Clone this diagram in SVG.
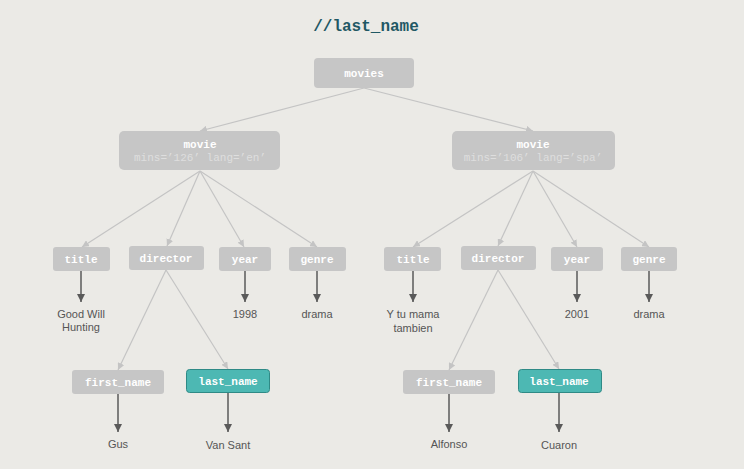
<svg xmlns="http://www.w3.org/2000/svg" width="744" height="469" viewBox="0 0 744 469">
<defs>
<marker id="ag" viewBox="0 0 10 10" refX="10" refY="5" markerWidth="7" markerHeight="7" markerUnits="userSpaceOnUse" orient="auto"><path d="M0,0 L10,5 L0,10 z" fill="#c4c4c4"/></marker>
<marker id="ad" viewBox="0 0 10 10" refX="10" refY="5" markerWidth="8" markerHeight="8" markerUnits="userSpaceOnUse" orient="auto"><path d="M0,0 L10,5 L0,10 z" fill="#5a5a5a"/></marker>
<style>
.n rect{fill:#c6c6c6;}
.n text{font-family:"Liberation Mono",monospace;font-size:11px;font-weight:bold;fill:#ffffff;text-anchor:middle;}
.n text.attr{font-weight:normal;fill:#dedede;}
.hl rect{fill:#4db8b3;stroke:#2f8a86;stroke-width:1;}
.g{stroke:#c4c4c4;stroke-width:1.2;fill:none;marker-end:url(#ag);}
.d{stroke:#5a5a5a;stroke-width:1.5;fill:none;marker-end:url(#ad);}
.v{font-family:"Liberation Sans",Arial,sans-serif;font-size:11px;fill:#555555;text-anchor:middle;}
</style>
</defs>
<rect width="744" height="469" fill="#ebeae6"/>
<text x="366" y="31" font-family="Liberation Mono, monospace" font-size="16" font-weight="bold" fill="#1f5864" text-anchor="middle">//last_name</text>

<g id="connectors">
<line class="g" x1="364" y1="88" x2="200" y2="131"/>
<line class="g" x1="364" y1="88" x2="533" y2="131"/>
<line class="g" x1="200" y1="171" x2="82" y2="247"/>
<line class="g" x1="200" y1="171" x2="167" y2="246"/>
<line class="g" x1="200" y1="171" x2="244" y2="247"/>
<line class="g" x1="200" y1="171" x2="317" y2="247"/>
<line class="g" x1="533" y1="171" x2="413" y2="247"/>
<line class="g" x1="533" y1="171" x2="498" y2="246"/>
<line class="g" x1="533" y1="171" x2="577" y2="247"/>
<line class="g" x1="533" y1="171" x2="649" y2="247"/>
<line class="g" x1="166" y1="270" x2="118" y2="370"/>
<line class="g" x1="166" y1="270" x2="228" y2="369"/>
<line class="g" x1="498" y1="270" x2="449" y2="370"/>
<line class="g" x1="498" y1="270" x2="559" y2="369"/>
<line class="d" x1="81" y1="271" x2="81" y2="302"/>
<line class="d" x1="245" y1="271" x2="245" y2="302"/>
<line class="d" x1="317" y1="271" x2="317" y2="302"/>
<line class="d" x1="413" y1="271" x2="413" y2="302"/>
<line class="d" x1="577" y1="271" x2="577" y2="302"/>
<line class="d" x1="649" y1="271" x2="649" y2="302"/>
<line class="d" x1="118" y1="394" x2="118" y2="432"/>
<line class="d" x1="228" y1="393" x2="228" y2="432"/>
<line class="d" x1="449" y1="394" x2="449" y2="432"/>
<line class="d" x1="559" y1="393" x2="559" y2="432"/>
</g>

<g id="movies" class="n"><rect x="314" y="58" width="100" height="30" rx="4"/><text x="364" y="77">movies</text></g>

<g id="movie1" class="n"><rect x="119" y="131" width="161" height="39" rx="5"/><text x="200" y="148">movie</text><text class="attr" x="200" y="161">mins=’126’ lang=’en’</text></g>
<g id="movie2" class="n"><rect x="452" y="131" width="163" height="39" rx="5"/><text x="533" y="148">movie</text><text class="attr" x="533" y="161">mins=’106’ lang=’spa’</text></g>

<g id="title1" class="n"><rect x="53" y="247" width="57" height="24" rx="3"/><text x="81" y="263">title</text></g>
<g id="director1" class="n"><rect x="129" y="246" width="75" height="24" rx="3"/><text x="166" y="262">director</text></g>
<g id="year1" class="n"><rect x="219" y="247" width="52" height="24" rx="3"/><text x="245" y="263">year</text></g>
<g id="genre1" class="n"><rect x="289" y="247" width="57" height="24" rx="3"/><text x="317" y="263">genre</text></g>

<g id="title2" class="n"><rect x="384" y="247" width="57" height="24" rx="3"/><text x="413" y="263">title</text></g>
<g id="director2" class="n"><rect x="461" y="246" width="75" height="24" rx="3"/><text x="498" y="262">director</text></g>
<g id="year2" class="n"><rect x="551" y="247" width="52" height="24" rx="3"/><text x="577" y="263">year</text></g>
<g id="genre2" class="n"><rect x="621" y="247" width="56" height="24" rx="3"/><text x="649" y="263">genre</text></g>

<g id="first_name1" class="n"><rect x="72" y="370" width="92" height="24" rx="3"/><text x="118" y="386">first_name</text></g>
<g id="last_name1" class="n hl"><rect x="186.5" y="369.5" width="83" height="23" rx="3"/><text x="228" y="385">last_name</text></g>
<g id="first_name2" class="n"><rect x="403" y="370" width="92" height="24" rx="3"/><text x="449" y="386">first_name</text></g>
<g id="last_name2" class="n hl"><rect x="518.5" y="369.5" width="83" height="23" rx="3"/><text x="559" y="385">last_name</text></g>

<g id="values">
<text class="v" x="81" y="318">Good Will</text>
<text class="v" x="81" y="331">Hunting</text>
<text class="v" x="245" y="318">1998</text>
<text class="v" x="317" y="318">drama</text>
<text class="v" x="413" y="318">Y tu mama</text>
<text class="v" x="413" y="332">tambien</text>
<text class="v" x="577" y="318">2001</text>
<text class="v" x="649" y="318">drama</text>
<text class="v" x="118" y="448">Gus</text>
<text class="v" x="228" y="449">Van Sant</text>
<text class="v" x="449" y="448">Alfonso</text>
<text class="v" x="559" y="449">Cuaron</text>
</g>
</svg>
